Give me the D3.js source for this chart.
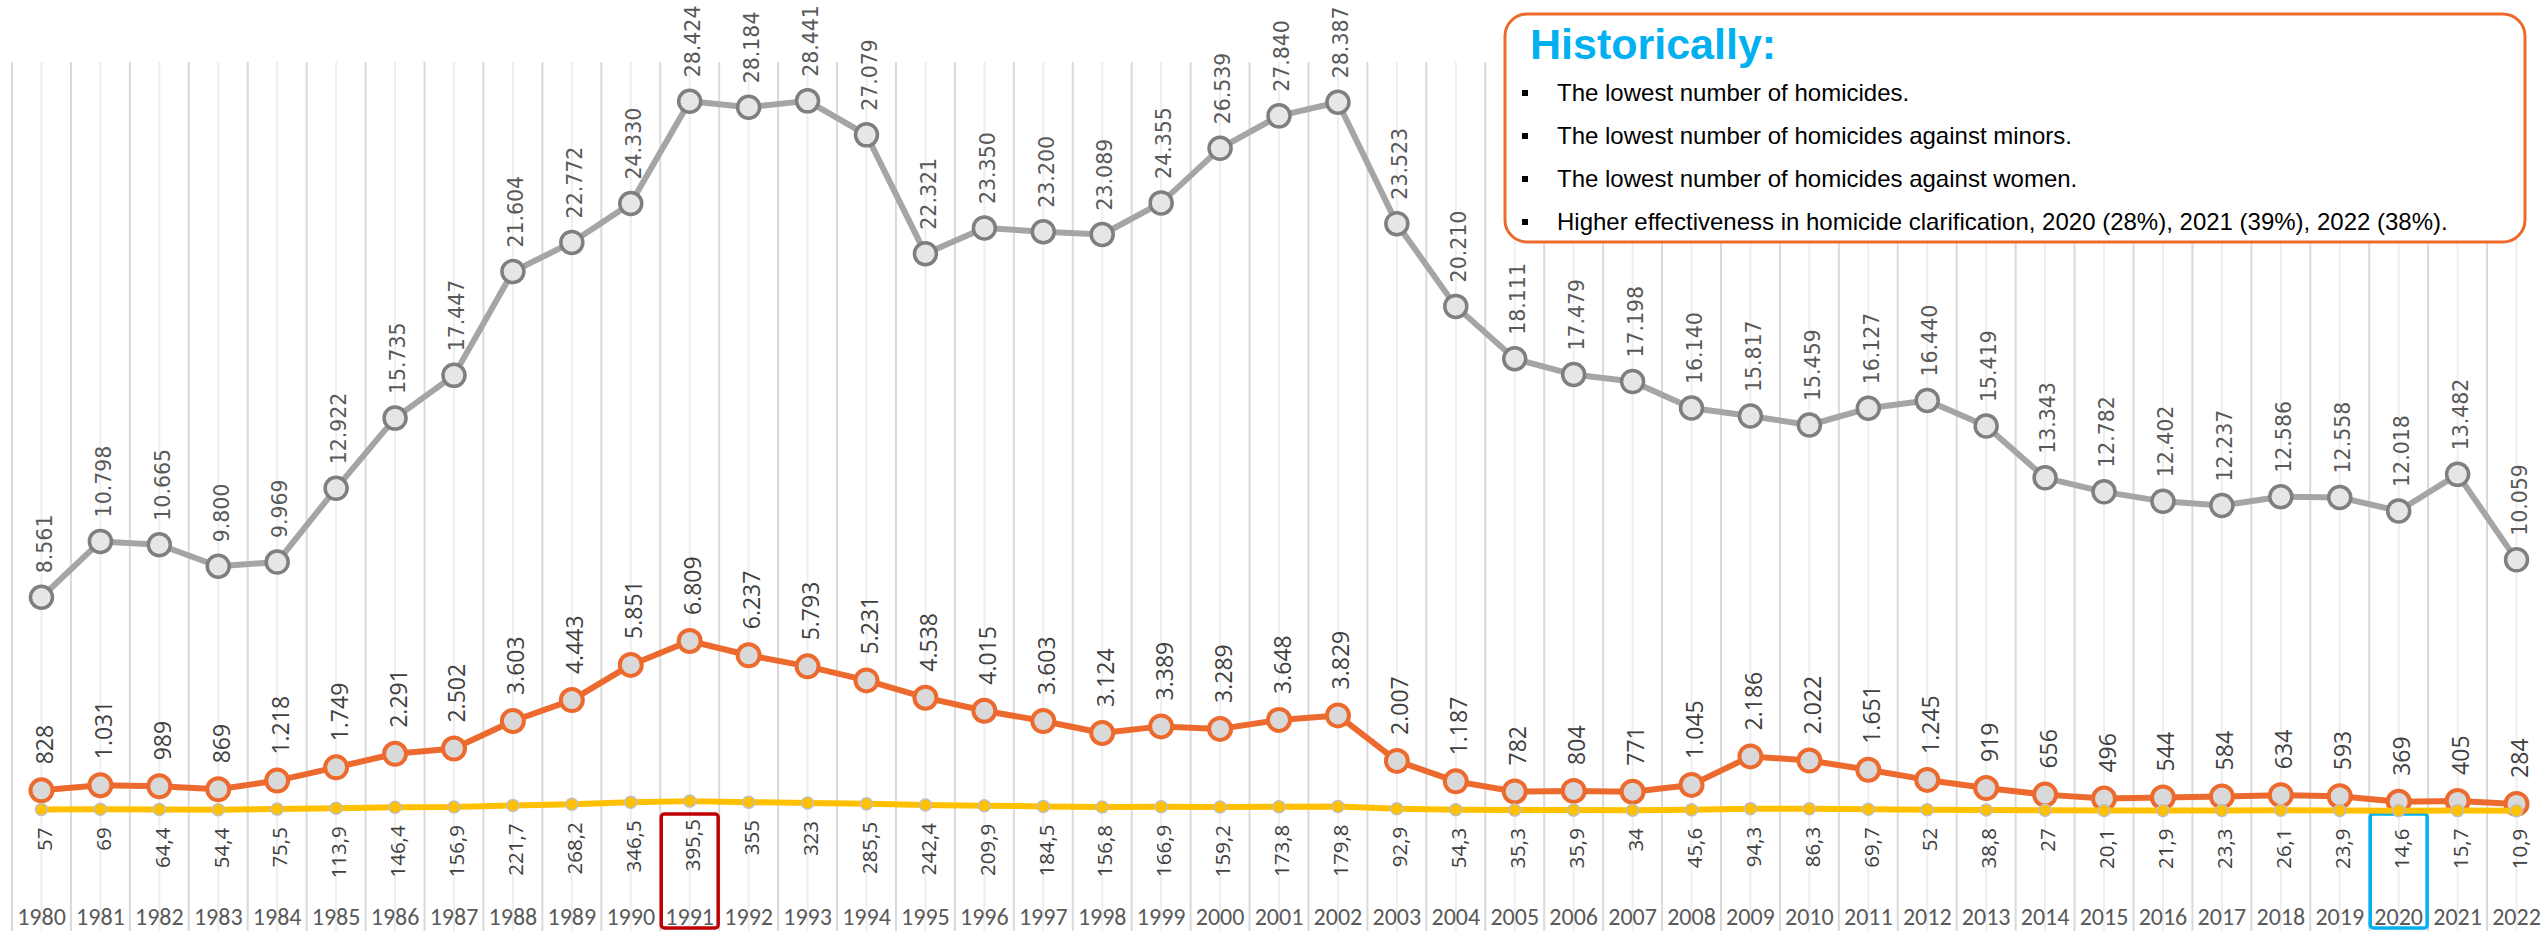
<!DOCTYPE html>
<html>
<head>
<meta charset="utf-8">
<script src="https://cdn.jsdelivr.net/npm/d3@7"></script>
<style>
    body { margin: 0; background: #ffffff; }
</style>
</head>
<body>
<div id="my_dataviz"></div>
<script>
// categories
var years = [1980, 1981, 1982, 1983, 1984, 1985, 1986, 1987, 1988, 1989,
    1990, 1991, 1992, 1993, 1994, 1995, 1996, 1997, 1998, 1999,
    2000, 2001, 2002, 2003, 2004, 2005, 2006, 2007, 2008, 2009,
    2010, 2011, 2012, 2013, 2014, 2015, 2016, 2017, 2018, 2019,
    2020, 2021, 2022];

// grey series (top line)
var homicides = [8561, 10798, 10665, 9800, 9969, 12922, 15735, 17447, 21604, 22772,
    24330, 28424, 28184, 28441, 27079, 22321, 23350, 23200, 23089, 24355,
    26539, 27840, 28387, 23523, 20210, 18111, 17479, 17198, 16140, 15817,
    15459, 16127, 16440, 15419, 13343, 12782, 12402, 12237, 12586, 12558,
    12018, 13482, 10059];

// orange series
var minors = [828, 1031, 989, 869, 1218, 1749, 2291, 2502, 3603, 4443,
    5851, 6809, 6237, 5793, 5231, 4538, 4015, 3603, 3124, 3389,
    3289, 3648, 3829, 2007, 1187, 782, 804, 771, 1045, 2186,
    2022, 1651, 1245, 919, 656, 496, 544, 584, 634, 593,
    369, 405, 284];

// yellow series
var rates = [57, 69, 64.4, 54.4, 75.5, 113.9, 146.4, 156.9, 221.7, 268.2,
    346.5, 395.5, 355, 323, 285.5, 242.4, 209.9, 184.5, 156.8, 166.9,
    159.2, 173.8, 179.8, 92.9, 54.3, 35.3, 35.9, 34, 45.6, 94.3,
    86.3, 69.7, 52, 38.8, 27, 20.1, 21.9, 23.3, 26.1, 23.9,
    14.6, 15.7, 10.9];

var noteTitle = "Historically:";
var notes = [
    "The lowest number of homicides.",
    "The lowest number of homicides against minors.",
    "The lowest number of homicides against women.",
    "Higher effectiveness in homicide clarification, 2020 (28%), 2021 (39%), 2022 (38%)."
];

var redYear = 1991, blueYear = 2020;

var width = 2544, height = 931;

var svg = d3.select("#my_dataviz")
    .append("svg")
    .attr("width", width)
    .attr("height", height)
    .style("display", "block");

// spanish style numbers: 8.561 / 64,4
var locale = d3.formatLocale({ decimal: ",", thousands: ".", grouping: [3], currency: ["", ""] });
var fmtInt = locale.format(",d");
var fmtDec = locale.format("~g");

var x = d3.scaleBand()
    .domain(years)
    .range([12, 2546]);
function cx(d) { return x(d) + x.bandwidth() / 2; }

// one y scale for the three lines
var y = d3.scaleLinear()
    .domain([0, 32000])
    .range([811, 12]);

// vertical grid: light line in the middle of each year, darker between years
svg.append("g").selectAll("line")
    .data(years)
    .enter().append("line")
    .attr("x1", cx).attr("x2", cx)
    .attr("y1", 62).attr("y2", height)
    .attr("stroke", "#eeeeee")
    .attr("stroke-width", 2);
svg.append("g").selectAll("line")
    .data(years)
    .enter().append("line")
    .attr("x1", function (d) { return x(d); })
    .attr("x2", function (d) { return x(d); })
    .attr("y1", 62).attr("y2", height)
    .attr("stroke", "#d9d9d9")
    .attr("stroke-width", 2);

// year labels
var xAxis = svg.append("g")
    .attr("transform", "translate(0,916)")
    .call(d3.axisBottom(x).tickSize(0).tickPadding(0));
xAxis.select(".domain").remove();
xAxis.attr("font-family", "Carlito, Lato, sans-serif")
    .attr("font-size", 24);
xAxis.selectAll("text")
    .attr("y", 0)
    .attr("dy", "0.36em")
    .attr("fill", "#595959");

// highlight boxes
svg.append("rect")
    .attr("x", x(redYear) + 1)
    .attr("y", 814)
    .attr("width", x.bandwidth() - 2)
    .attr("height", 114)
    .attr("rx", 3)
    .attr("fill", "none")
    .attr("stroke", "#c00000")
    .attr("stroke-width", 3.5);
svg.append("rect")
    .attr("x", x(blueYear) + 1)
    .attr("y", 814)
    .attr("width", x.bandwidth() - 2)
    .attr("height", 114)
    .attr("rx", 3)
    .attr("fill", "none")
    .attr("stroke", "#00b0f0")
    .attr("stroke-width", 3.5);

function drawSeries(values, opt) {
    var g = svg.append("g");
    g.append("path")
        .datum(values)
        .attr("fill", "none")
        .attr("stroke", opt.line)
        .attr("stroke-width", opt.lineWidth)
        .attr("stroke-linejoin", "round")
        .attr("d", d3.line()
            .x(function (d, i) { return cx(years[i]); })
            .y(function (d) { return y(d); }));
    g.selectAll("circle")
        .data(values)
        .enter().append("circle")
        .attr("cx", function (d, i) { return cx(years[i]); })
        .attr("cy", function (d) { return y(d); })
        .attr("r", opt.r)
        .attr("fill", opt.fill)
        .attr("stroke", opt.stroke)
        .attr("stroke-width", opt.strokeWidth);
    return g;
}

function drawLabels(values, opt) {
    svg.append("g").selectAll("text")
        .data(values)
        .enter().append("text")
        .attr("transform", function (d, i) {
            return "translate(" + cx(years[i]) + "," + (y(d) + opt.offset) + ") rotate(-90)";
        })
        .attr("dy", "0.5em")
        .attr("text-anchor", opt.anchor)
        .style("font-family", opt.font)
        .style("font-size", opt.size)
        .style("fill", opt.color)
        .text(opt.format);
}

drawSeries(homicides, { line: "#a5a5a5", lineWidth: 6, r: 11, fill: "#e7e6e6", stroke: "#7f7f7f", strokeWidth: 3.5 });
drawSeries(minors, { line: "#ed6a2e", lineWidth: 6, r: 11, fill: "#d9d9d9", stroke: "#ed6a2e", strokeWidth: 4 });
drawSeries(rates, { line: "#ffc000", lineWidth: 6, r: 6, fill: "#ffc000", stroke: "#bfbfbf", strokeWidth: 1.5 });

drawLabels(homicides, { offset: -24, anchor: "start", font: "'DejaVu Sans', sans-serif", size: "20.5px", color: "#595959", format: fmtInt });
drawLabels(minors, { offset: -26, anchor: "start", font: "'Open Sans', sans-serif", size: "23px", color: "#404040", format: fmtInt });
drawLabels(rates, { offset: 18, anchor: "end", font: "'Open Sans', sans-serif", size: "20.5px", color: "#404040", format: fmtDec });

// notes box
var box = svg.append("g");
box.append("rect")
    .attr("x", 1505)
    .attr("y", 14)
    .attr("width", 1020)
    .attr("height", 228)
    .attr("rx", 22)
    .attr("fill", "#ffffff")
    .attr("stroke", "#ed6a2e")
    .attr("stroke-width", 3);
box.append("text")
    .attr("x", 1530)
    .attr("y", 59)
    .style("font-family", "'Liberation Sans', Arial, sans-serif")
    .style("font-weight", "bold")
    .style("font-size", "43px")
    .style("fill", "#00b0f0")
    .text(noteTitle);
var rows = box.selectAll("g.note")
    .data(notes)
    .enter().append("g")
    .attr("class", "note")
    .attr("transform", function (d, i) { return "translate(0," + (101 + i * 43) + ")"; });
rows.append("rect")
    .attr("x", 1522)
    .attr("y", -11)
    .attr("width", 6)
    .attr("height", 6)
    .attr("fill", "#000000");
rows.append("text")
    .attr("x", 1557)
    .attr("y", 0)
    .style("font-family", "'Liberation Sans', Arial, sans-serif")
    .style("font-size", "24px")
    .style("fill", "#000000")
    .text(function (d) { return d; });
</script>
</body>
</html>
